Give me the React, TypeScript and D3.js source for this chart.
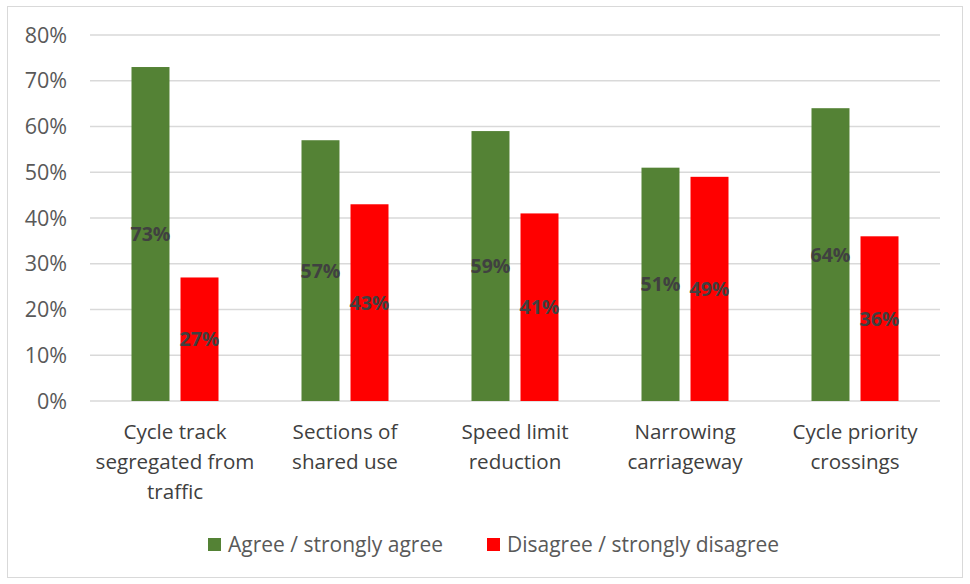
import React from "react";
import * as d3 from "d3";

const categories: string[][] = [
  ["Cycle track", "segregated from", "traffic"],
  ["Sections of", "shared use"],
  ["Speed limit", "reduction"],
  ["Narrowing", "carriageway"],
  ["Cycle priority", "crossings"],
];
const agree = [73, 57, 59, 51, 64];
const disagree = [27, 43, 41, 49, 36];
const yTicks = [0, 10, 20, 30, 40, 50, 60, 70, 80];
const seriesNames = ["Agree / strongly agree", "Disagree / strongly disagree"];
const seriesColors = ["#548235", "#FF0000"];

const W = 970;
const H = 584;
const FONT = "'Open Sans', Lato, sans-serif";

export default function App() {
  const left = 90, right = 940, top = 35, bottom = 401;
  const x = d3.scaleBand<number>().domain(d3.range(categories.length)).range([left, right]);
  const inner = d3.scaleBand<number>().domain([0, 1]).range([41.5, x.bandwidth() - 41.5]).paddingInner(0.225);
  const y = d3.scaleLinear().domain([0, 80]).range([bottom, top]);
  const series = [agree, disagree];
  const legendX = [208, 487];

  return (
    <svg width={W} height={H} style={{ position: "absolute", left: 0, top: 0 }} fontFamily={FONT}>
      <rect x={0} y={0} width={W} height={H} fill="#fff" />
      <rect x={7.5} y={6.5} width={955} height={571} fill="none" stroke="#d9d9d9" strokeWidth={1} />
      {yTicks.map((t) => (
        <g key={t}>
          <line x1={left} x2={right} y1={y(t)} y2={y(t)} stroke="#d9d9d9" strokeWidth={1.3} />
          <text x={67} y={y(t)} dy="0.36em" textAnchor="end" fontSize={21.5} fill="#595959">
            {t}%
          </text>
        </g>
      ))}
      {series.map((vals, s) =>
        vals.map((v, i) => {
          const bx = (x(i) ?? 0) + (inner(s) ?? 0);
          return (
            <rect key={`${s}-${i}`} x={bx} y={y(v)} width={inner.bandwidth()} height={y(0) - y(v)} fill={seriesColors[s]} />
          );
        })
      )}
      {series.map((vals, s) =>
        vals.map((v, i) => {
          const cx = (x(i) ?? 0) + (inner(s) ?? 0) + inner.bandwidth() / 2;
          return (
            <text key={`l${s}-${i}`} x={cx} y={(y(v) + y(0)) / 2} dy="0.36em" textAnchor="middle" fontSize={19.5} fontWeight="bold" fill="#404040">
              {v}%
            </text>
          );
        })
      )}
      {categories.map((lines, i) => (
        <text key={`c${i}`} textAnchor="middle" fontSize={20.6} fill="#404040">
          {lines.map((ln, j) => (
            <tspan key={j} x={(x(i) ?? 0) + x.bandwidth() / 2} y={432 + j * 30} dy="0.36em">
              {ln}
            </tspan>
          ))}
        </text>
      ))}
      {seriesNames.map((name, s) => (
        <g key={name}>
          <rect x={legendX[s]} y={538} width={13} height={13} fill={seriesColors[s]} />
          <text x={legendX[s] + 20} y={544.5} dy="0.36em" fontSize={21} fill="#595959">
            {name}
          </text>
        </g>
      ))}
    </svg>
  );
}
